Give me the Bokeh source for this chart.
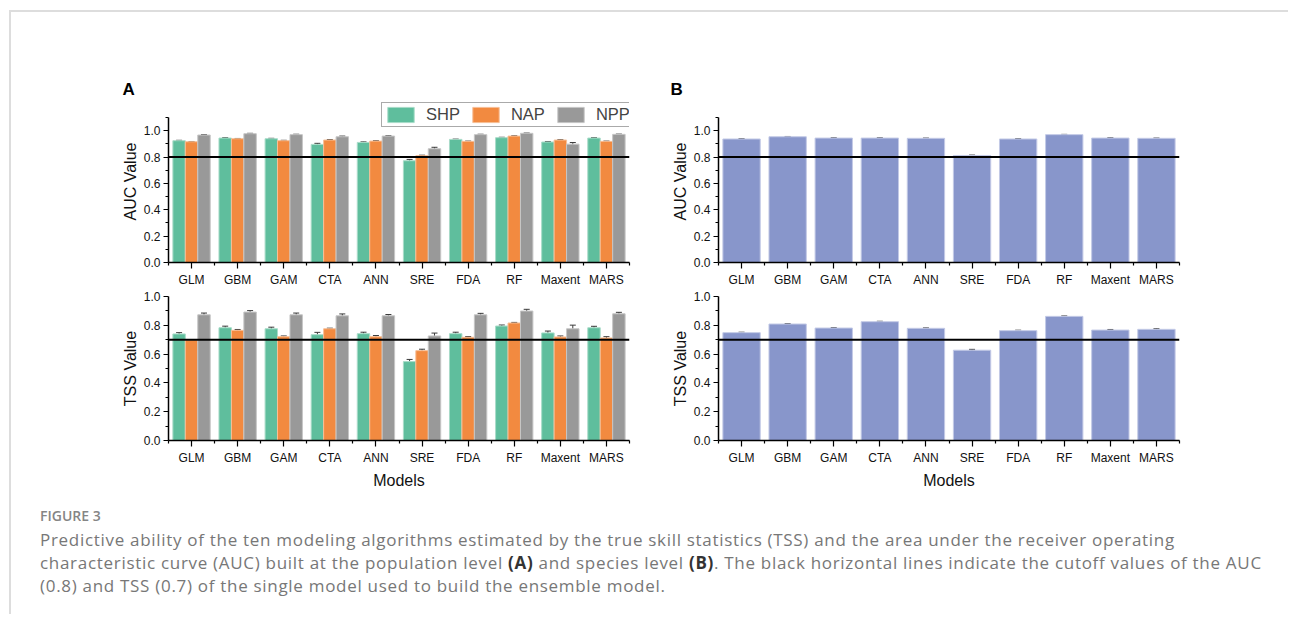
from bokeh.plotting import figure
from bokeh.models import (ColumnDataSource, Range1d, FixedTicker, NumeralTickFormatter,
                          Span, Whisker, TeeHead, Legend, LegendItem, Div)
from bokeh.layouts import column, row
from bokeh.embed import file_html
from bokeh.resources import INLINE

# ---------------- data ----------------
models = ["GLM", "GBM", "GAM", "CTA", "ANN", "SRE", "FDA", "RF", "Maxent", "MARS"]
groups = ["SHP", "NAP", "NPP"]

# Panel A - AUC (population level)
auc_shp = [0.924, 0.944, 0.939, 0.896, 0.911, 0.772, 0.934, 0.947, 0.914, 0.944]
auc_nap = [0.916, 0.939, 0.924, 0.929, 0.921, 0.810, 0.919, 0.959, 0.929, 0.919]
auc_npp = [0.967, 0.977, 0.970, 0.954, 0.959, 0.863, 0.970, 0.980, 0.898, 0.972]
auc_shp_err = [0.003, 0.003, 0.003, 0.008, 0.004, 0.010, 0.002, 0.003, 0.004, 0.003]
auc_nap_err = [0.002, 0.002, 0.003, 0.004, 0.003, 0.004, 0.002, 0.002, 0.003, 0.002]
auc_npp_err = [0.003, 0.003, 0.003, 0.005, 0.003, 0.011, 0.003, 0.002, 0.012, 0.002]

# Panel A - TSS (population level)
tss_shp = [0.740, 0.783, 0.776, 0.735, 0.742, 0.548, 0.742, 0.795, 0.747, 0.783]
tss_nap = [0.698, 0.765, 0.721, 0.776, 0.721, 0.624, 0.717, 0.816, 0.719, 0.712]
tss_npp = [0.873, 0.892, 0.873, 0.866, 0.866, 0.726, 0.873, 0.899, 0.776, 0.880]
tss_shp_err = [0.009, 0.011, 0.011, 0.016, 0.010, 0.015, 0.010, 0.007, 0.013, 0.010]
tss_nap_err = [0.003, 0.006, 0.005, 0.004, 0.008, 0.010, 0.005, 0.004, 0.007, 0.009]
tss_npp_err = [0.012, 0.010, 0.012, 0.013, 0.009, 0.020, 0.010, 0.012, 0.025, 0.010]

# Panel B - species level
auc_sp = [0.937, 0.954, 0.944, 0.944, 0.942, 0.812, 0.937, 0.970, 0.944, 0.942]
auc_sp_err = [0.002, 0.002, 0.002, 0.002, 0.002, 0.003, 0.002, 0.002, 0.002, 0.002]
tss_sp = [0.749, 0.809, 0.781, 0.825, 0.779, 0.627, 0.763, 0.862, 0.767, 0.772]
tss_sp_err = [0.003, 0.003, 0.003, 0.003, 0.003, 0.006, 0.003, 0.003, 0.004, 0.004]

auc_cutoff = 0.8
tss_cutoff = 0.7

y_major = [0.0, 0.2, 0.4, 0.6, 0.8, 1.0]
y_minor_top = [0.1, 0.3, 0.5, 0.7, 0.9, 1.1]
y_minor_bot = [0.1, 0.3, 0.5, 0.7, 0.9]
auc_axis_max = 1.1
tss_axis_max = 1.0

caption_title = "FIGURE 3"
caption_lines = [
    "Predictive ability of the ten modeling algorithms estimated by the true skill statistics (TSS) "
    "and the area under the receiver operating",
    "characteristic curve (AUC) built at the population level <b style='color:#333'>(A)</b> and species level "
    "<b style='color:#333'>(B)</b>. The black horizontal lines indicate the cutoff values of the AUC",
    "(0.8) and TSS (0.7) of the single model used to build the ensemble model.",
]

# ---------------- style ----------------
FONT = "Liberation Sans"
GROUP_COLORS = {"SHP": "#5fbe9d", "NAP": "#f28a40", "NPP": "#999999"}
GROUP_EDGES = {"SHP": "#a9dcc9", "NAP": "#f7bf97", "NPP": "#c6c6c6"}
B_COLOR = "#8896cb"
B_EDGE = "#c3cae6"
BAR_W = 0.27
BORDER = "#dddddd"

# frame geometry (px)
TOP_AXIS_PX = 145      # pixel height of 0..1.1 in the top row
TOP_FRAME_PX = 162     # frame is taller so the legend fits inside it


def make_fig(width, height, left, right, top, bottom, yend, axis_max, ylabel, minor, xlabel=None):
    p = figure(width=width, height=height,
               x_range=Range1d(0.5, len(models) + 0.5), y_range=Range1d(0, yend),
               output_backend="svg", toolbar_location=None,
               min_border_left=left, min_border_right=right,
               min_border_top=top, min_border_bottom=bottom)
    p.outline_line_color = None
    p.grid.visible = False
    xa = p.xaxis[0]
    xa.ticker = FixedTicker(ticks=[i + 1 for i in range(len(models))],
                            minor_ticks=[i + 0.5 for i in range(len(models) + 1)])
    xa.major_label_overrides = {i + 1: m for i, m in enumerate(models)}
    ya = p.yaxis[0]
    ya.ticker = FixedTicker(ticks=y_major, minor_ticks=minor)
    ya.formatter = NumeralTickFormatter(format="0.0")
    ya.bounds = (0, axis_max)
    ya.axis_label = ylabel
    if xlabel:
        xa.axis_label = xlabel
    for ax in (xa, ya):
        ax.axis_line_color = "black"
        ax.axis_line_width = 1.5
        ax.major_tick_line_color = "black"
        ax.minor_tick_line_color = "black"
        ax.major_tick_line_width = 1.2
        ax.minor_tick_line_width = 1.2
        ax.major_tick_in = 0
        ax.minor_tick_in = 0
        ax.major_label_text_font = FONT
        ax.major_label_text_font_size = "12px"
        ax.major_label_text_color = "#111111"
        ax.axis_label_text_font = FONT
        ax.axis_label_text_font_size = "16px"
        ax.axis_label_text_font_style = "normal"
        ax.axis_label_text_color = "#111111"
    xa.major_tick_out = 6
    xa.minor_tick_out = 3
    xa.major_label_standoff = 4
    xa.axis_label_standoff = 4
    ya.major_tick_out = 5
    ya.minor_tick_out = 3
    ya.major_label_standoff = 3
    ya.axis_label_standoff = 2
    return p


def add_err(p, src):
    w = Whisker(source=src, base="x", lower="lower", upper="upper", dimension="height",
                line_color="#3a3a3a", line_width=1,
                upper_head=TeeHead(size=6, line_color="#3a3a3a", line_width=1),
                lower_head=TeeHead(size=6, line_color="#3a3a3a", line_width=1))
    p.add_layout(w)


def grouped(p, series, errs):
    rends = []
    for j, (g, vals, e) in enumerate(zip(groups, series, errs)):
        xs = [i + 1 + (j - 1) * BAR_W for i in range(len(models))]
        src = ColumnDataSource(dict(x=xs, top=vals,
                                    lower=[v - d for v, d in zip(vals, e)],
                                    upper=[v + d for v, d in zip(vals, e)]))
        r = p.vbar(x="x", top="top", bottom=0, width=BAR_W, source=src,
                   fill_color=GROUP_COLORS[g], line_color=GROUP_EDGES[g], line_width=1)
        rends.append(r)
        add_err(p, src)
    return rends


def single(p, vals, e):
    xs = [i + 1 for i in range(len(models))]
    src = ColumnDataSource(dict(x=xs, top=vals,
                                lower=[v - d for v, d in zip(vals, e)],
                                upper=[v + d for v, d in zip(vals, e)]))
    p.vbar(x="x", top="top", bottom=0, width=3 * BAR_W, source=src,
           fill_color=B_COLOR, line_color=B_EDGE, line_width=1)
    add_err(p, src)


def cutoff(p, v):
    p.add_layout(Span(location=v, dimension="width", line_color="black", line_width=2))


def panel_letter(p, txt, offset):
    p.title.text = txt
    p.title.align = "left"
    p.title.offset = offset
    p.title.standoff = 4
    p.title.text_font = FONT
    p.title.text_font_style = "bold"
    p.title.text_font_size = "17px"
    p.title.text_color = "black"


top_yend = auc_axis_max * TOP_FRAME_PX / TOP_AXIS_PX

# ---------------- panel A ----------------
pa1 = make_fig(639, 278, 157, 21, 88, 28, top_yend, auc_axis_max, "AUC Value", y_minor_top)
ra = grouped(pa1, [auc_shp, auc_nap, auc_npp], [auc_shp_err, auc_nap_err, auc_npp_err])
cutoff(pa1, auc_cutoff)
leg = Legend(items=[LegendItem(label=g, renderers=[r]) for g, r in zip(groups, ra)],
             orientation="horizontal", location=(213, 135),
             glyph_width=33, glyph_height=19, label_height=19,
             label_standoff=9, spacing=9, padding=2, margin=0,
             label_text_font=FONT, label_text_font_size="16.5px",
             border_line_color="#555555", border_line_width=1,
             background_fill_color="white", background_fill_alpha=1)
pa1.add_layout(leg, "center")
panel_letter(pa1, "A", -46)

pa2 = make_fig(639, 210, 157, 21, 6, 60, tss_axis_max, tss_axis_max, "TSS Value", y_minor_bot,
               xlabel="Models")
grouped(pa2, [tss_shp, tss_nap, tss_npp], [tss_shp_err, tss_nap_err, tss_npp_err])
cutoff(pa2, tss_cutoff)

# ---------------- panel B ----------------
pb1 = make_fig(630, 278, 68, 101, 88, 28, top_yend, auc_axis_max, "AUC Value", y_minor_top)
single(pb1, auc_sp, auc_sp_err)
cutoff(pb1, auc_cutoff)
panel_letter(pb1, "B", -48)

pb2 = make_fig(630, 210, 68, 101, 6, 60, tss_axis_max, tss_axis_max, "TSS Value", y_minor_bot,
               xlabel="Models")
single(pb2, tss_sp, tss_sp_err)
cutoff(pb2, tss_cutoff)

# ---------------- caption ----------------
caption_html = (
    "<div style=\"font-family:'Open Sans'; padding-left:29px; white-space:nowrap;\">"
    "<div style=\"font-size:14px; font-weight:600; color:#858585; line-height:20px; padding-top:6px;\">"
    + caption_title +
    "</div>"
    "<div style=\"font-size:17px; letter-spacing:0.7px; line-height:23px; color:#777777; margin-top:2px;\">"
    + "<br>".join(caption_lines) +
    "</div></div>"
)
cap = Div(text=caption_html, width=1260, height=114, margin=(0, 0, 0, 0))

content = column(row(pa1, pb1), row(pa2, pb2), cap)
H = 278 + 210 + 114

top_space = Div(text="", width=1280, height=10, margin=(0, 0, 0, 0))
top_line = row(Div(text="", width=9, height=2, margin=(0, 0, 0, 0)),
               Div(text="", width=1279, height=2, margin=(0, 0, 0, 0),
                   styles={"background-color": BORDER}))
main = row(Div(text="", width=9, height=H, margin=(0, 0, 0, 0)),
           Div(text="", width=2, height=H, margin=(0, 0, 0, 0),
               styles={"background-color": BORDER}),
           content)

layout = column(top_space, top_line, main)

open("out.html", "w").write(file_html(layout, INLINE))
